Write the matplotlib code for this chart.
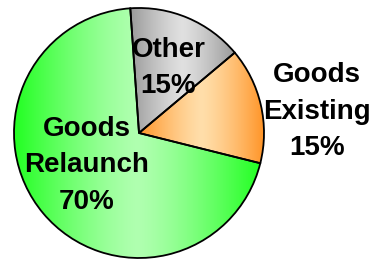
import numpy as np
import matplotlib.pyplot as plt
from matplotlib.colors import to_rgb

labels = ["Other\n15%", "Goods\nExisting\n15%", "Goods\nRelaunch\n70%"]
shares = [15, 15, 70]
dark_colors = ["#999999", "#ff9528", "#22ff22"]
light_colors = ["#e0e0e0", "#ffdeaa", "#b0ffb0"]

fig = plt.figure(figsize=(3.71, 2.59), dpi=100)
ax = fig.add_axes([0, 0, 1, 1])

wedges, _ = ax.pie(shares, startangle=94, counterclock=False, radius=1,
                   wedgeprops=dict(edgecolor="black", linewidth=1.3, facecolor="none"))

# horizontal gradient inside each wedge: dark at the edges, light in the middle
for w, dc, lc in zip(wedges, dark_colors, light_colors):
    t = np.radians(np.linspace(w.theta1, w.theta2, 200))
    xs = np.concatenate([[0], np.cos(t)])
    ys = np.concatenate([[0], np.sin(t)])
    x0, x1 = xs.min(), xs.max()
    y0, y1 = ys.min(), ys.max()
    u = np.linspace(-1, 1, 256)
    f = 1 - np.abs(u) ** 1.3
    c = np.array(to_rgb(dc))[None, :] * (1 - f[:, None]) + np.array(to_rgb(lc))[None, :] * f[:, None]
    img = np.tile(c[None, :, :], (2, 1, 1))
    im = ax.imshow(img, extent=(x0, x1, y0, y1), aspect="auto", zorder=0.5,
                   interpolation="bilinear")
    im.set_clip_path(w)

txt = dict(fontsize=20, fontweight="bold", family="Liberation Sans",
           ha="center", va="center", linespacing=1.52)
ax.text(0.236, 0.52, labels[0], **txt)
ax.text(1.424, 0.17, labels[1], **txt)
ax.text(-0.42, -0.26, labels[2], **txt)

ax.set_xlim(-139 / 125, (371 - 139) / 125)
ax.set_ylim(-(259 - 133) / 125, 133 / 125)
ax.set_aspect("auto")
ax.axis("off")

fig.savefig("out.png", dpi=100)
